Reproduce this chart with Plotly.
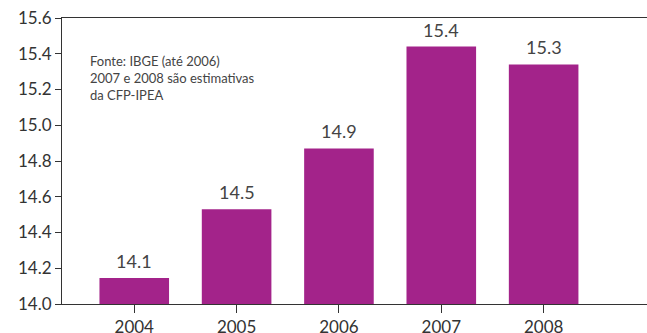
import plotly.graph_objects as go

years = ["2004", "2005", "2006", "2007", "2008"]
values = [14.145, 14.53, 14.87, 15.44, 15.34]
labels = ["14.1", "14.5", "14.9", "15.4", "15.3"]
y_ticks = [14.0, 14.2, 14.4, 14.6, 14.8, 15.0, 15.2, 15.4, 15.6]
y_tick_text = ["14.0", "14.2", "14.4", "14.6", "14.8", "15.0", "15.2", "15.4", "15.6"]

xpos = list(range(len(years)))

fig = go.Figure(go.Bar(
    x=xpos, y=values,
    marker=dict(color="#A3238A", line=dict(width=0)),
    width=0.68, hoverinfo="skip",
))

annotations = [dict(
    x=x, y=v, text=t, showarrow=False, xanchor="center", yanchor="bottom",
    yshift=4, font=dict(size=18, color="#444444"),
) for x, v, t in zip(xpos, values, labels)]

annotations.append(dict(
    xref="paper", yref="paper", x=0.045, y=0.885, xanchor="left", yanchor="top",
    text="Fonte: IBGE (até 2006)<br>2007 e 2008 são estimativas<br>da CFP-IPEA",
    showarrow=False, align="left", font=dict(size=13, color="#444444"),
))

fig.update_layout(
    width=647, height=333,
    margin=dict(l=62, r=0, t=18, b=29, autoexpand=False),
    plot_bgcolor="white", paper_bgcolor="white",
    font=dict(family="Lato, Noto Sans, sans-serif", color="#333333"),
    showlegend=False,
    xaxis=dict(
        range=[-0.706, 5.01], tickvals=xpos, ticktext=years, automargin=False,
        ticks="outside", ticklen=8, tickcolor="#333333", tickwidth=1,
        showline=True, linecolor="#333333", linewidth=1, mirror=True,
        showgrid=False, zeroline=False, tickfont=dict(size=17, color="#333333"),
    ),
    yaxis=dict(
        range=[14.0, 15.6], tickvals=y_ticks, ticktext=y_tick_text, automargin=False,
        ticks="outside", ticklen=6, tickcolor="#333333", tickwidth=1,
        showline=True, linecolor="#333333", linewidth=1,
        showgrid=False, zeroline=False, tickfont=dict(size=17, color="#333333"),
    ),
    annotations=annotations,
)
fig.write_html("out.html", config={"displayModeBar": False},
               post_script="document.body.style.margin='0';document.body.style.overflow='hidden';")
